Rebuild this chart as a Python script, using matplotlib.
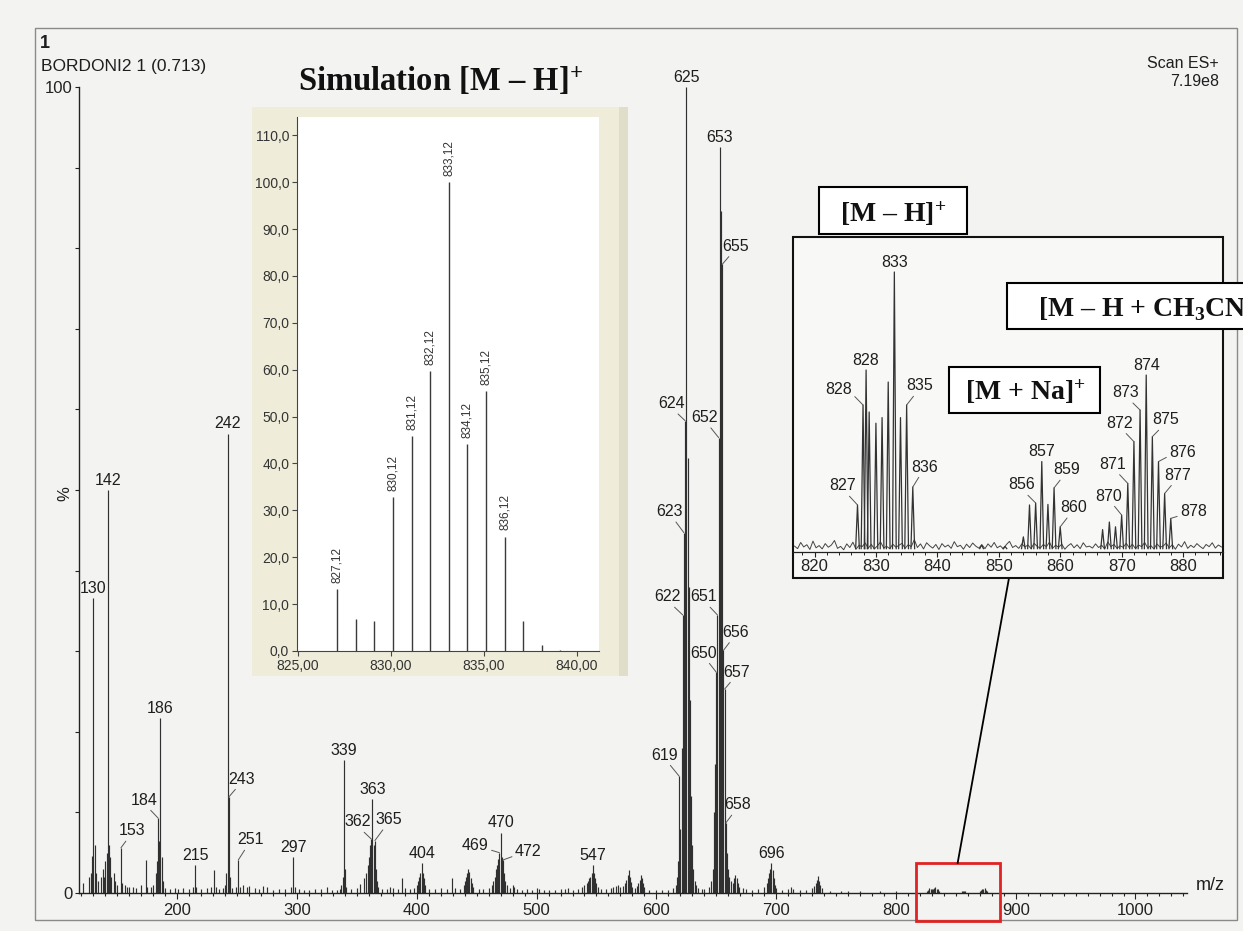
import matplotlib
matplotlib.use("Agg")
import matplotlib.pyplot as plt
from matplotlib.patches import Rectangle, ConnectionPatch
from matplotlib.ticker import MultipleLocator, FixedLocator

plt.rcParams['font.family'] = ['Liberation Sans', 'DejaVu Sans']
plt.rcParams['mathtext.fontset'] = 'custom'
plt.rcParams['mathtext.rm'] = 'Liberation Serif:bold'
plt.rcParams['mathtext.it'] = 'Liberation Serif:italic:bold'
plt.rcParams['mathtext.bf'] = 'Liberation Serif:bold'

# ---------------- spectrum data (m/z, relative intensity %) ----------------
peaks_100_200 = [
    (121, 1.2), (126, 2.0), (128, 2.5), (129, 4.6), (130, 36.6), (131, 6.0),
    (132, 2.5), (134, 1.5), (136, 2.0), (138, 3.0), (139, 2.0), (140, 4.0),
    (141, 5.0), (142, 50.0), (143, 6.0), (144, 4.5), (145, 2.0), (147, 2.5),
    (148, 1.5), (150, 1.0), (153, 5.6), (154, 1.2), (156, 1.0), (158, 0.8),
    (160, 0.7), (163, 0.8), (166, 0.6), (170, 1.0), (174, 4.1), (175, 0.8),
    (178, 0.7), (180, 1.0), (182, 2.5), (183, 4.0), (184, 9.3), (185, 6.5),
    (186, 21.7), (187, 4.5), (188, 1.5), (190, 0.6), (194, 0.5), (198, 0.6),
]
peaks_200_400 = [
    (201, 0.5), (205, 0.6), (210, 0.5), (213, 0.8), (215, 3.5), (216, 0.8),
    (220, 0.5), (225, 0.6), (228, 0.8), (231, 2.9), (232, 0.8), (235, 0.5),
    (238, 0.6), (240, 1.0), (241, 2.5), (242, 57.0), (243, 11.9), (244, 2.0),
    (246, 0.6), (249, 0.8), (251, 4.1), (252, 0.8), (255, 1.0), (258, 0.8),
    (260, 0.9), (265, 0.6), (268, 0.5), (272, 0.9), (275, 0.7), (280, 0.4),
    (285, 0.5), (290, 0.5), (295, 0.8), (297, 4.5), (298, 0.8), (302, 0.5),
    (306, 0.4), (310, 0.4), (315, 0.5), (320, 0.5), (325, 0.8), (329, 0.4),
    (333, 0.4), (336, 0.5), (337, 1.0), (338, 2.0), (339, 16.5), (340, 3.0),
    (341, 0.8), (345, 0.5), (350, 0.6), (353, 1.1), (356, 1.8), (358, 2.5),
    (359, 3.5), (360, 4.5), (361, 6.0), (362, 6.7), (363, 11.7), (364, 6.0),
    (365, 6.5), (366, 3.0), (367, 1.5), (368, 0.8), (371, 0.5), (375, 0.5),
    (378, 0.7), (380, 0.6), (384, 0.5), (388, 1.8), (390, 0.6), (394, 0.5),
    (398, 0.6),
]
peaks_400_600 = [
    (400, 1.0), (401, 1.5), (402, 2.0), (403, 2.5), (404, 3.7), (405, 2.5),
    (406, 1.8), (407, 1.0), (410, 0.5), (415, 0.5), (420, 0.6), (425, 0.5),
    (429, 1.8), (432, 0.6), (436, 0.5), (439, 1.0), (440, 1.5), (441, 2.0),
    (442, 2.5), (443, 3.0), (444, 2.6), (445, 1.8), (446, 1.2), (447, 0.8),
    (452, 0.5), (455, 0.5), (460, 0.6), (463, 1.0), (464, 1.5), (465, 2.0),
    (466, 3.0), (467, 3.5), (468, 4.2), (469, 5.0), (470, 7.5), (471, 4.5),
    (472, 4.1), (473, 2.5), (474, 1.5), (475, 1.0), (478, 0.6), (480, 1.0),
    (481, 0.8), (484, 0.5), (488, 0.4), (492, 0.5), (496, 0.4), (500, 0.6),
    (502, 0.5), (506, 0.4), (510, 0.4), (515, 0.4), (520, 0.5), (524, 0.5),
    (526, 0.6), (530, 0.4), (535, 0.5), (538, 0.8), (540, 1.0), (542, 1.2),
    (543, 1.5), (544, 1.8), (545, 2.0), (546, 2.5), (547, 3.5), (548, 2.5),
    (549, 1.8), (550, 1.2), (551, 0.8), (554, 0.5), (558, 0.5), (562, 0.6),
    (564, 0.8), (566, 0.9), (568, 1.0), (570, 0.8), (572, 0.9), (574, 1.2),
    (575, 1.6), (576, 2.2), (577, 2.9), (578, 2.0), (579, 1.4), (580, 0.8),
    (582, 0.6), (584, 0.9), (585, 1.2), (586, 1.6), (587, 2.2), (588, 1.8),
    (589, 1.2), (590, 0.7), (594, 0.4),
]
peaks_600_700 = [
    (600, 0.4), (605, 0.4), (610, 0.4), (614, 0.6), (616, 1.0), (617, 2.0),
    (618, 4.0), (619, 14.5), (620, 8.0), (621, 18.0), (622, 34.5), (623, 44.7),
    (624, 58.6), (625, 100.0), (626, 54.0), (627, 38.0), (628, 24.0), (629, 12.0),
    (630, 6.0), (631, 3.0), (632, 1.5), (633, 1.0), (635, 0.6), (638, 0.5),
    (640, 0.5), (644, 0.7), (646, 1.5), (647, 3.0), (648, 10.0), (649, 16.0),
    (650, 27.4), (651, 34.5), (652, 56.5), (653, 92.6), (654, 84.6), (655, 78.0),
    (656, 30.1), (657, 25.3), (658, 8.7), (659, 5.0), (660, 3.0), (661, 2.0),
    (662, 1.5), (664, 1.2), (665, 1.8), (666, 2.2), (667, 1.8), (668, 1.2),
    (669, 0.8), (672, 0.6), (675, 0.5), (680, 0.4), (685, 0.5), (690, 0.8),
    (692, 1.2), (693, 1.8), (694, 2.5), (695, 3.0), (696, 3.7), (697, 2.8),
    (698, 1.8), (699, 1.0),
]
peaks_700_1000 = [
    (700, 0.6), (705, 0.4), (710, 0.5), (712, 0.7), (714, 0.5), (720, 0.4),
    (725, 0.4), (730, 0.6), (732, 0.9), (733, 1.2), (734, 1.6), (735, 2.1),
    (736, 1.5), (737, 1.0), (738, 0.6), (745, 0.3), (754, 0.3), (760, 0.2),
    (770, 0.2), (787, 0.3), (800, 0.2), (826, 0.3), (827, 0.4), (828, 0.6),
    (829, 0.5), (830, 0.5), (831, 0.5), (832, 0.6), (833, 0.8), (834, 0.5),
    (835, 0.5), (836, 0.3), (855, 0.2), (856, 0.3), (857, 0.3), (858, 0.2),
    (870, 0.3), (871, 0.4), (872, 0.5), (873, 0.5), (874, 0.6), (875, 0.4),
    (876, 0.3),
]
spectrum_groups = [peaks_100_200, peaks_200_400, peaks_400_600,
                   peaks_600_700, peaks_700_1000]

# peaks annotated directly above their apex
main_direct_labels = [130, 142, 186, 215, 242, 297, 339, 363, 404, 470, 547,
                      625, 653, 696]
# peaks annotated with a leader line: label offset (px right, px up)
main_leader_labels = {
    153: (11, 17), 184: (-14, 18), 243: (13, 18), 251: (12, 20),
    362: (-14, 17), 365: (14, 21), 469: (-24, 7), 472: (25, 8),
    619: (-15, 21), 622: (-15, 18), 623: (-14, 21), 624: (-14, 17),
    650: (-13, 19), 651: (-14, 18), 652: (-14, 20), 655: (13, 18),
    656: (12, 18), 657: (12, 17), 658: (12, 18),
}

# ---------------- simulated isotope pattern ----------------
sim_mz = [827.12, 828.12, 829.12, 830.12, 831.12, 832.12, 833.12, 834.12,
          835.12, 836.12, 837.12, 838.12, 839.12]
sim_int = [13.2, 6.8, 6.4, 32.9, 45.8, 59.7, 100.0, 44.2, 55.4, 24.4, 6.4,
           1.2, 0.3]
sim_labelled = [827.12, 830.12, 831.12, 832.12, 833.12, 834.12, 835.12, 836.12]

# ---------------- zoomed region 816-887 ----------------
zoom_mz = [827.0, 827.9, 828.4, 828.9, 830.0, 831.0, 832.0, 833.0, 834.0,
           835.0, 836.0, 847.2, 851.0, 854.0, 855.0, 856.0, 857.0, 858.0,
           859.0, 860.0, 866.9, 868.0, 869.0, 870.0, 871.0, 872.0, 873.0,
           874.0, 875.0, 876.0, 877.0, 878.0]
zoom_int = [16.8, 52.5, 65.0, 50.0, 46.0, 48.0, 60.7, 100.0, 48.0, 52.5,
            23.2, 2.5, 2.0, 5.4, 16.8, 17.5, 32.3, 17.0, 22.9, 9.0, 8.0,
            10.7, 9.0, 13.2, 24.5, 39.4, 50.7, 63.2, 41.2, 32.3, 20.9, 12.0]
zoom_direct_labels = [828.4, 833.0, 857.0, 874.0]
zoom_leader_labels = {
    827.0: (-14.6, 19), 827.9: (-24.4, 15), 835.0: (13, 19), 836.0: (11.7, 20),
    856.0: (-14.5, 18), 859.0: (12.2, 18), 860.0: (13, 19), 870.0: (-13.4, 19),
    871.0: (-14.8, 19), 872.0: (-14.4, 18.4), 873.0: (-14, 17.3),
    875.0: (13, 16.7), 876.0: (24, 9.4), 877.0: (13, 18.3), 878.0: (22.6, 6.6),
}
# baseline noise sampled every 0.5 m/z from 816.75
noise_start, noise_step = 816.75, 0.5
noise_int = [
    2.1, 1.2, 3.4, 1.8, 2.6, 0.9, 3.9, 1.5, 2.3, 1.1,
    3.0, 1.7, 2.5, 4.1, 1.3, 2.0, 0.8, 2.9, 1.6, 3.5,
    1.0, 2.4, 1.9, 3.2, 1.4, 2.7, 1.1, 2.2, 3.6, 1.5,
    2.0, 1.2, 2.8, 1.7, 2.4, 3.1, 1.3, 2.6, 1.9, 4.4,
    1.6, 2.9, 1.1, 3.3, 2.2, 1.4, 2.7, 0.9, 3.0, 1.8,
    2.5, 1.3, 3.7, 1.9, 2.4, 1.0, 2.8, 1.6, 3.2, 2.1,
    1.4, 2.6, 1.2, 2.9, 1.7, 3.4, 1.5, 2.2, 1.1, 2.7,
    3.8, 1.6, 2.3, 1.3, 2.9, 1.8, 2.5, 1.2, 3.1, 2.0,
    1.4, 2.7, 1.9, 3.5, 1.3, 2.4, 1.7, 2.8, 1.0, 2.2,
    3.0, 1.5, 2.6, 1.2, 3.3, 1.8, 2.1, 1.4, 2.9, 1.6,
    2.4, 1.1, 3.6, 1.9, 2.7, 1.3, 2.2, 1.7, 3.1, 1.5,
    2.8, 1.2, 2.5, 1.9, 3.4, 1.4, 2.3, 1.1, 2.9, 1.7,
    2.1, 3.2, 1.5, 2.6, 1.0, 2.8, 1.8, 3.7, 1.3, 2.4,
    1.6, 3.0, 2.0, 1.2, 2.7, 1.9, 3.3, 1.4, 2.5, 1.8,
]

# ---------------- layout helpers (pixel coordinates, origin top-left) ----------------
W, H = 1243, 931
PAPER = '#f3f3f2'
INK = '#1e1e1e'


def frac_rect(l, t, r, b):
    return [l / W, 1 - b / H, (r - l) / W, (b - t) / H]


def fxy(px, py):
    return (px / W, 1 - py / H)


def fig_box(l, t, r, b, **kw):
    patch = Rectangle(fxy(l, b), (r - l) / W, (b - t) / H,
                      transform=fig.transFigure, **kw)
    fig.add_artist(patch)
    return patch


def label_peak(axis, text, x, y, offset, size, relpos=None):
    dx, dy = offset
    if relpos is None:
        if abs(dx) > 20:
            relpos = (1.0, 0.25) if dx < 0 else (0.0, 0.25)
        else:
            relpos = (0.65, 0.0) if dx < 0 else (0.35, 0.0)
    axis.annotate(text, xy=(x, y), xytext=(dx, dy), textcoords='offset pixels',
                  ha='center', va='center', fontsize=size, color=INK,
                  annotation_clip=False,
                  arrowprops=dict(arrowstyle='-', color='#555555', lw=0.7,
                                  shrinkA=0, shrinkB=0, relpos=relpos))


fig = plt.figure(figsize=(W / 100, H / 100), dpi=100, facecolor=PAPER)

# outer frame of the printout
fig_box(35, 28, 1237, 920, fill=False, ec='#8a8a8a', lw=1.0, zorder=1)

# ---------------- main spectrum ----------------
ax = fig.add_axes(frac_rect(79, 87, 1187, 893), zorder=2)
ax.patch.set_alpha(0)
heights = {}
for group in spectrum_groups:
    mz = [p[0] for p in group]
    it = [p[1] for p in group]
    heights.update(dict(group))
    ax.vlines(mz, 0, it, color='#303030', lw=0.85)

ax.set_xlim(118, 1043)
ax.set_ylim(0, 100)
for s in ('top', 'right'):
    ax.spines[s].set_visible(False)
for s in ('left', 'bottom'):
    ax.spines[s].set_color('#222222')
    ax.spines[s].set_linewidth(1.0)
ax.set_xticks(range(200, 1001, 100))
ax.xaxis.set_minor_locator(MultipleLocator(10))
ax.set_yticks([0, 100])
ax.yaxis.set_minor_locator(FixedLocator(range(10, 100, 10)))
ax.tick_params(axis='both', which='both', direction='out', colors='#222222',
               labelsize=12, width=0.8)
ax.tick_params(axis='x', which='major', length=4.5, pad=3)
ax.tick_params(axis='x', which='minor', length=2.2)
ax.tick_params(axis='y', which='both', length=3.2, pad=1.5)

for m in main_direct_labels:
    ax.annotate(str(round(m)), xy=(m, heights[m]), xytext=(0, 1.5),
                textcoords='offset points', ha='center', va='bottom',
                fontsize=11.5, color=INK, annotation_clip=False)
for m, off in main_leader_labels.items():
    label_peak(ax, str(round(m)), m, heights[m], off, 11.5)

# highlighted region that is enlarged in the box on the right
zoom_lo, zoom_hi = 816.5, 886.5
ax.add_patch(Rectangle((zoom_lo, -3.5), zoom_hi - zoom_lo, 7.2, fill=False,
                       ec='#e02222', lw=2.0, clip_on=False, zorder=6))
con = ConnectionPatch(xyA=((zoom_lo + zoom_hi) / 2, 3.7), coordsA=ax.transData,
                      xyB=fxy(1009, 578), coordsB=fig.transFigure,
                      color='black', lw=1.3, zorder=3)
fig.add_artist(con)

fig.text(*fxy(65, 494), '%', rotation=90, ha='center', va='center',
         fontsize=12, color=INK)
fig.text(*fxy(1210, 885), 'm/z', ha='center', va='center', fontsize=13,
         color=INK)
fig.text(*fxy(40, 43), '1', ha='left', va='center', fontsize=13,
         fontweight='bold', color=INK)
fig.text(*fxy(41, 66), 'BORDONI2 1 (0.713)', ha='left', va='center',
         fontsize=12.5, color=INK)
fig.text(*fxy(1219, 64), 'Scan ES+', ha='right', va='center', fontsize=11.5,
         color=INK)
fig.text(*fxy(1219, 81), '7.19e8', ha='right', va='center', fontsize=11.5,
         color=INK)

# ---------------- simulated pattern panel ----------------
serif = dict(family=['Liberation Serif', 'DejaVu Serif'], fontweight='bold',
             color='#111111')
fig.text(*fxy(298, 91), 'Simulation [M – H]$^{+}$', ha='left', va='baseline',
         fontsize=23.5, **serif)
fig_box(252, 107, 628, 676, fc='#efedda', ec='none', zorder=3)
fig_box(619, 107, 628, 676, fc='#e0dec9', ec='none', zorder=3)

sx = fig.add_axes(frac_rect(297, 117, 599, 651), zorder=4)
sx.set_facecolor('white')
sx.vlines(sim_mz, 0, sim_int, color='#3a3a3a', lw=1.0)
sx.set_xlim(824.95, 841.2)
sx.set_ylim(0, 113.9)
for s in ('top', 'right'):
    sx.spines[s].set_visible(False)
for s in ('left', 'bottom'):
    sx.spines[s].set_color('#444444')
sim_xt = [825, 830, 835, 840]
sx.set_xticks(sim_xt)
sx.set_xticklabels([f'{v:.2f}'.replace('.', ',') for v in sim_xt])
sim_yt = list(range(0, 111, 10))
sx.set_yticks(sim_yt)
sx.set_yticklabels([f'{v:.1f}'.replace('.', ',') for v in sim_yt])
sx.tick_params(direction='out', length=3.6, width=0.8, colors='#444444',
               labelcolor='#333333', labelsize=10, pad=2)
sim_height = dict(zip(sim_mz, sim_int))
for m in sim_labelled:
    sx.annotate(f'{m:.2f}'.replace('.', ','), xy=(m, sim_height[m]),
                xytext=(0, 4.5), textcoords='offset points', rotation=90,
                ha='center', va='bottom', fontsize=8.5, color='#333333')

# ---------------- enlarged 816-887 region ----------------
fig_box(793, 237, 1223, 578, fc='#f8f8f7', ec='#111111', lw=1.5, zorder=4)
zx = fig.add_axes(frac_rect(793, 237, 1223, 552), zorder=5)
zx.patch.set_alpha(0)
noise_x = [noise_start + noise_step * i for i in range(len(noise_int))]
zx.plot(noise_x, noise_int, color='#444444', lw=0.7)
for m, h in zip(zoom_mz, zoom_int):
    zx.plot([m - 0.3, m, m + 0.3], [1.2, h, 1.2], color='#333333', lw=0.9)
zx.set_xlim(zoom_lo, zoom_hi)
zx.set_ylim(0, 112.5)
for s in ('top', 'right', 'left'):
    zx.spines[s].set_visible(False)
zx.spines['bottom'].set_color('#222222')
zx.spines['bottom'].set_linewidth(0.9)
zx.set_yticks([])
zx.set_xticks(range(820, 881, 10))
zx.xaxis.set_minor_locator(MultipleLocator(2))
zx.tick_params(axis='x', which='major', direction='out', length=3.6,
               width=0.8, labelsize=12, pad=1.5, colors='#222222')
zx.tick_params(axis='x', which='minor', direction='out', length=2.0,
               width=0.7, colors='#222222')
zoom_height = dict(zip(zoom_mz, zoom_int))
for m in zoom_direct_labels:
    zx.annotate(str(round(m)), xy=(m, zoom_height[m]), xytext=(0, 1.5),
                textcoords='offset points', ha='center', va='bottom',
                fontsize=11.5, color=INK)
for m, off in zoom_leader_labels.items():
    label_peak(zx, str(round(m)), m, zoom_height[m], off, 11.5)

# ion assignment tags
fig_box(819, 187, 967, 234, fc='white', ec='black', lw=1.5, zorder=7)
fig.text(*fxy(893, 222), '[M – H]$^{+}$', ha='center', va='baseline',
         fontsize=20, zorder=8, **serif)
fig_box(949, 367, 1100, 413, fc='white', ec='black', lw=1.5, zorder=7)
fig.text(*fxy(1025, 400), '[M + Na]$^{+}$', ha='center', va='baseline',
         fontsize=20, zorder=8, **serif)
fig_box(1007, 283, 1300, 329, fc='white', ec='black', lw=1.5, zorder=7)
fig.text(*fxy(1038, 317), '[M – H + CH$_{3}$CN]$^{+}$', ha='left',
         va='baseline', fontsize=20, zorder=8, **serif)

fig.savefig('out.png', dpi=100, facecolor=fig.get_facecolor())
